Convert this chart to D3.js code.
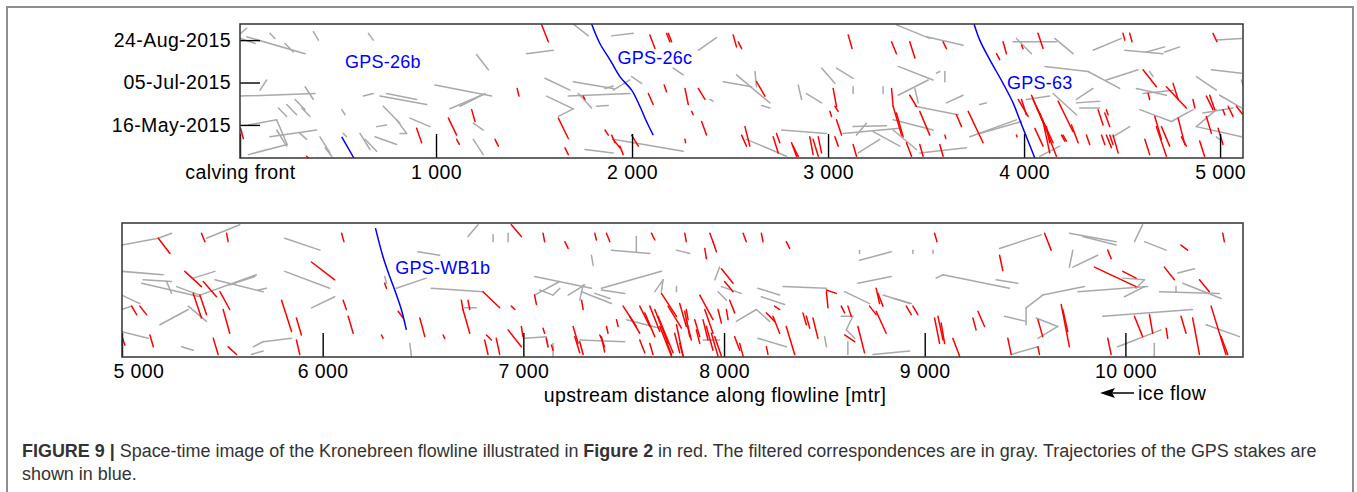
<!DOCTYPE html>
<html>
<head>
<meta charset="utf-8">
<script src="https://cdn.jsdelivr.net/npm/d3@7"></script>
<style>
  body { margin: 0; background: #fff; }
  svg text { font-family: "Liberation Sans", Arial, Helvetica, sans-serif; }
</style>
</head>
<body>
<svg id="fig" width="1357" height="492"></svg>
<script>
// Space-time image, Kronebreen flowline
// segments are [distance0, dayOfYear0, distance1, dayOfYear1]  (2015)

var doyDomain = [97, 255];
var dateTicks = [136, 186, 236];
var dateLabels = ["16-May-2015", "05-Jul-2015", "24-Aug-2015"];

var topTicks = [0, 1000, 2000, 3000, 4000, 5000];
var topTickLabels = ["calving front", "1 000", "2 000", "3 000", "4 000", "5 000"];
var bottomTicks = [5000, 6000, 7000, 8000, 9000, 10000];
var bottomTickLabels = ["5 000", "6 000", "7 000", "8 000", "9 000", "10 000"];

var redTop = [
  [3,132,17,120],[901,132,927,115],[1063,144,1105,124],[1105,119,1119,113],[340,99,349,97],
  [1539,254,1573,234],[2091,242,2117,226],[2176,244,2193,234],[2185,244,2202,234],
  [2516,242,2533,228],[2542,234,2559,226],[3103,242,3123,226],[3324,234,3349,220],
  [1414,179,1423,170],[2164,183,2176,175],[2083,173,2108,160],[2270,179,2287,160],
  [2338,179,2372,166],[2304,152,2312,148],[2355,140,2380,124],[2635,187,2678,170],
  [3026,179,3043,158],[3035,158,3052,152],[3009,152,3018,146],[3043,142,3069,124],
  [3324,179,3332,158],[1182,154,1199,140],[1301,119,1318,111],[1624,144,1675,120],
  [1658,109,1675,101],[1751,170,1760,166],[1862,130,1879,124],[1896,124,1913,115],
  [1904,119,1938,109],[1938,111,1955,101],[1998,124,2032,111],[2270,119,2273,115],
  [2559,124,2584,111],[2576,134,2601,111],[2720,122,2746,103],[2737,126,2754,115],
  [2814,115,2839,99],[2822,111,2848,99],[2907,122,2924,101],[2924,119,2950,99],
  [2950,122,2967,103],[3035,122,3052,111],[3128,113,3145,99],
  [3417,234,3443,215],[3587,234,3604,226],[3859,220,3876,213],[3893,234,3910,220],
  [4071,244,4097,226],[3987,230,3995,226],[4505,244,4514,236],[4539,244,4551,234],
  [4964,244,4984,234],[3332,158,3375,124],[3349,150,3383,122],[3417,171,3451,158],
  [3468,152,3519,124],[3655,148,3681,134],[3715,152,3791,115],[3596,124,3601,120],
  [3961,124,3964,122],[3400,115,3426,99],[3468,113,3485,99],[3570,113,3587,99],
  [3970,166,4021,146],[3987,166,4012,148],[4038,171,4114,130],[4046,166,4123,126],
  [4063,158,4148,115],[4080,150,4165,99],[4097,140,4131,103],[4114,134,4131,115],
  [4055,132,4097,111],[4174,164,4250,128],[4191,124,4208,117],[4199,124,4216,117],
  [4242,136,4276,115],[4318,124,4335,113],[4378,154,4403,136],[4412,150,4437,134],
  [4420,154,4429,148],[4395,124,4412,113],[4420,124,4446,109],[4437,124,4454,113],
  [4454,124,4480,103],[4607,201,4675,181],[4633,173,4641,166],[4726,181,4828,156],
  [4760,185,4786,166],[4862,166,4871,156],[4667,146,4701,119],[4675,134,4726,99],
  [4701,134,4743,111],[4616,119,4641,101],[4786,144,4820,113],[4803,122,4828,111],
  [4896,117,4921,99],[4930,170,4964,154],[4947,171,4973,154],[4930,146,4956,126],
  [4990,132,5015,113],[5041,158,5066,146],[5083,158,5117,148],[5015,154,5024,148]
];

var grayTop = [
  [3,244,34,250],[3,238,77,232],[34,240,332,220],[153,244,178,238],[230,232,272,222],
  [374,246,400,236],[655,244,680,236],[102,177,136,189],[3,170,383,173],[332,181,374,166],
  [196,156,238,146],[238,160,289,148],[281,166,332,154],[315,156,357,146],[43,136,187,142],
  [187,142,241,113],[241,113,43,101],[187,130,238,111],[153,122,391,130],[306,126,340,119],
  [408,122,459,103],[434,109,468,99],[519,154,536,148],[527,126,544,122],[612,126,663,107],
  [638,119,697,105],[629,170,680,173],[714,170,952,160],[748,173,901,166],[731,158,816,138],
  [799,142,850,126],[850,126,816,126],[867,144,969,134],[697,134,748,136],[689,122,799,113],
  [1700,255,1777,241],[1896,241,2006,244],[1462,220,1598,224],[1207,219,1267,201],
  [995,183,1284,170],[1071,155,1241,172],[1122,158,1250,173],[1190,138,1241,130],
  [1190,119,1241,101],[1556,191,1683,177],[1700,187,1904,179],[1675,170,1989,173],
  [1564,170,1700,155],[1700,155,1624,146],[1726,173,1794,156],[1819,158,1879,159],
  [1862,179,1904,182],[1904,177,1989,189],[1998,193,2049,185],[2210,203,2261,195],
  [2338,224,2431,239],[1760,107,1904,103],[1904,119,2261,105],[2465,187,2610,181],
  [2533,195,2703,162],[2627,199,2635,181],[2848,183,2865,166],[2890,173,2967,162],
  [2967,203,3035,185],[3043,203,3128,191],[3128,181,3128,173],[3281,181,3281,173],
  [2661,159,2703,156],[2397,166,2414,164],[2763,130,2992,126],[2584,119,2788,99],
  [3128,134,3298,135],[3077,126,3366,132],[3145,124,3196,138],[3154,103,3264,119],
  [3230,128,3366,111],
  [3349,254,3519,238],[3502,240,3689,230],[3358,205,3536,189],[3553,197,3570,199],
  [3596,199,3596,187],[3358,171,3511,189],[3443,179,3460,162],[3443,158,3664,148],
  [3604,162,3689,171],[3774,160,3808,162],[3332,130,3451,107],[3468,103,3706,109],
  [3332,142,3536,130],[3774,126,3987,140],[3723,122,3961,142],[3944,234,4165,234],
  [3961,238,4038,220],[4157,238,4250,220],[4352,224,4497,238],[4514,224,4709,220],
  [4624,222,4718,228],[4718,222,4794,228],[4106,205,4327,199],[4327,199,4488,179],
  [4420,189,4582,201],[4573,179,4726,171],[4607,173,4760,177],[4641,199,4658,193],
  [4267,166,4352,179],[4267,162,4386,164],[4284,156,4386,156],[4148,173,4267,148],
  [4012,166,4131,170],[4590,154,4752,140],[4752,140,4862,154],[4454,122,4539,134],
  [4879,193,4981,177],[4956,201,5109,197],[5109,189,5117,183],[4998,171,5109,156],
  [4879,134,4981,154],[4879,134,5109,122],[4913,150,5066,156],[4981,236,5109,238],
  [4080,99,4182,111],[4981,122,4998,119]
];

var redBottom = [
  [5181,237,5239,219],[5396,243,5413,233],[5521,243,5529,233],[6094,243,6106,233],
  [5313,198,5396,180],[5405,186,5471,168],[5488,174,5537,153],[5355,172,5396,143],
  [5388,170,5421,147],[5504,153,5537,125],[5048,157,5073,147],[5089,157,5122,147],
  [5944,209,6060,188],[5795,164,5845,127],[5869,143,5894,123],[5869,117,5886,100],
  [6102,164,6118,153],[6127,145,6152,125],[4998,123,5014,111],[5139,123,5156,109],
  [5455,119,5479,100],[5529,109,5571,100],[6293,123,6301,119],[6309,184,6318,178],
  [6376,151,6401,143],[6484,143,6509,121],[6600,123,6608,119],[6691,164,6699,153],
  [6724,164,6733,153],[6699,153,6733,125],[6799,174,6882,155],[6940,157,6957,153],
  [6940,253,6990,239],[7098,243,7106,233],[7056,170,7065,159],[6816,123,6841,117],
  [6807,117,6824,100],[6865,119,6882,100],[6924,129,6990,109],[6990,133,6998,121],
  [7098,131,7106,125],[7114,119,7123,109],
  [7207,233,7223,225],[7356,243,7364,235],[7414,243,7431,233],[7638,243,7655,235],
  [7804,243,7812,233],[7929,243,7945,233],[8095,243,8111,233],[8186,243,8194,233],
  [8310,233,8327,225],[9049,243,9061,233],[7904,225,7912,213],[7945,233,7962,221],
  [7987,201,8045,184],[8003,186,8045,174],[8028,164,8053,149],[7879,170,7945,141],
  [7904,153,7945,125],[7688,172,7763,145],[7721,157,7788,131],[7779,160,7812,133],
  [7804,151,7829,121],[7812,141,7837,117],[7497,157,7563,133],[7530,145,7580,125],
  [7580,157,7630,133],[7605,149,7655,121],[7630,157,7680,127],[7655,153,7721,113],
  [7671,145,7746,102],[7680,133,7738,98],[7754,125,7779,102],[7763,135,7796,98],
  [7854,141,7879,121],[7862,129,7879,113],[7895,141,7920,117],[7912,133,7945,105],
  [7937,125,7970,98],[7954,121,7987,98],[7970,153,7987,137],[7812,153,7821,141],
  [7580,117,7605,102],[7630,113,7646,100],[7713,115,7738,100],[7779,113,7796,98],
  [8053,121,8078,105],[8078,113,8095,98],[8012,153,8020,141],[7290,164,7298,153],
  [7248,133,7273,113],[7256,121,7281,102],[7281,115,7298,100],[7381,123,7405,109],
  [7389,121,7405,103],[7414,133,7422,125],[7464,141,7472,133],[7140,111,7148,105],
  [8211,149,8252,139],[8244,145,8277,125],[8252,157,8277,153],[8211,109,8219,100],
  [8310,133,8352,100],[8393,149,8410,135],[8410,145,8427,131],[8443,143,8468,119],
  [8510,176,8559,172],[8510,174,8518,155],[8584,157,8601,149],[8617,157,8634,145],
  [8601,123,8651,115],[8667,133,8700,102],[8758,178,8775,160],[8767,172,8792,157],
  [8725,157,8758,147],[8758,151,8808,125],[8908,157,8933,147],[8941,157,8966,147],
  [9049,143,9074,113],[9066,145,9091,117],[9082,137,9099,113],[9140,119,9174,98],
  [9240,143,9256,129],[9265,151,9298,133],
  [9597,243,9630,223],[9373,217,9389,199],[9912,223,9929,213],[9846,203,10053,180],
  [9987,198,10053,190],[10194,203,10244,188],[10277,229,10310,223],[10485,243,10493,233],
  [10369,188,10418,174],[9680,159,9721,109],[9688,153,9713,127],[9564,141,9588,121],
  [9414,119,9431,100],[9564,109,9572,100],[9912,119,9929,100],[10045,145,10086,121],
  [10120,147,10136,125],[10203,131,10211,119],[10277,145,10302,125],[10335,143,10369,100],
  [10427,157,10501,100],[10477,121,10510,100]
];

var grayBottom = [
  [4998,229,5181,237],[5181,237,5247,243],[5421,237,5587,253],[5811,237,5986,223],
  [4998,198,5205,194],[5106,188,5247,186],[5098,184,5388,168],[5222,186,5247,172],
  [5272,180,5388,170],[5355,190,5463,198],[5388,170,5670,194],[5463,188,5703,174],
  [5537,182,5662,192],[5679,176,5720,178],[5811,198,6035,178],[5944,155,6060,168],
  [4998,170,5089,160],[4998,153,5048,157],[5189,135,5330,153],[5330,157,5421,139],
  [4998,127,5130,119],[5297,109,5355,105],[5654,109,5703,115],[5703,115,5845,119],
  [5645,100,5703,104],[6475,221,6583,217],[6724,239,6774,253],[6849,241,6849,233],
  [6924,243,6924,233],[6367,178,6516,190],[6309,192,6318,184],[6541,178,6799,174],
  [7056,170,7181,186],[6707,155,6766,155],[7007,119,7114,121],[7114,121,7123,109],
  [6434,113,6442,98],
  [7439,223,7630,219],[7563,239,7563,221],[7763,223,7829,219],[7339,217,7348,205],
  [7056,192,7339,178],[7389,178,7688,198],[7389,176,7505,172],[7082,176,7148,170],
  [7148,170,7182,178],[7223,170,7306,182],[7298,182,7281,164],[7290,174,7439,160],
  [7356,172,7431,166],[7655,174,7696,188],[7696,188,7688,174],[7763,180,7763,174],
  [7978,203,7954,188],[7987,180,8086,172],[7970,174,8012,164],[8061,139,8161,153],
  [8161,153,8227,139],[8169,178,8277,170],[8186,168,8302,159],[8294,180,8510,178],
  [8601,174,8725,160],[8667,184,8833,192],[8675,211,8833,221],[8675,223,8675,219],
  [8941,223,8941,219],[9041,223,9041,219],[9057,190,9091,194],[9091,194,9422,178],
  [8792,170,8925,160],[8850,166,8933,160],[8584,145,8642,145],[8642,145,8609,129],
  [8609,129,8651,119],[8617,115,8617,100],[8742,100,8925,104],[8169,119,8310,109],
  [8501,121,8510,109],[7514,141,7680,131],[7281,117,7505,115],[7148,113,7148,98],
  [7895,117,7978,117],
  [9373,225,9580,241],[9721,243,9954,233],[9788,239,9954,229],[10045,233,10086,253],
  [10095,233,10203,223],[9721,203,9738,223],[9738,203,9862,217],[9356,188,9464,184],
  [9505,155,9588,170],[9588,170,9796,180],[9505,155,9505,135],[9763,174,10111,180],
  [9987,190,10095,188],[10095,188,10053,178],[9995,168,10095,180],[10261,196,10344,201],
  [10170,174,10468,172],[10252,180,10252,174],[10286,184,10477,166],[9887,145,10335,153],
  [9398,145,9505,139],[9555,143,9663,133],[9663,133,9564,119],[9431,100,9564,109],
  [9962,109,10178,129],[10144,113,10144,98],[10402,135,10568,121]
];

// GPS stake trajectories [distance, dayOfYear]
var gps26b = [[519,122],[581,97]];
var gps26c = [[1794,255],[1836,232],[1887,213],[1938,193],[1998,177],[2040,158],[2074,140],[2108,124]];
var gps63 = [[3745,255],[3774,236],[3825,213],[3893,185],[3944,162],[3978,142],[4012,122],[4055,97]];
var gpsWB1b = [[6263,249],[6301,215],[6334,192],[6359,176],[6392,153],[6417,129]];

var gpsTopNames = ["GPS-26b", "GPS-26c", "GPS-63"];
var gpsTopLabelAt = [[729,210],[2117,215],[4080,186]];
var gpsBottomNames = ["GPS-WB1b"];
var gpsBottomLabelAt = [[6599,202]];

var svg = d3.select("#fig");

// outer frame of the figure
svg.append("rect")
  .attr("x", 7).attr("y", 7)
  .attr("width", 1346).attr("height", 500)
  .attr("fill", "none")
  .attr("stroke", "#8e8e8e")
  .attr("stroke-width", 2);

function styleLabels(sel) {
  sel.attr("font-size", 19.5)
    .attr("letter-spacing", 0.4)
    .attr("font-family", "Liberation Sans, Arial, sans-serif")
    .attr("fill", "#000");
}

function drawPanel(p) {
  var x = d3.scaleLinear().domain(p.xDomain).range([p.left, p.right]);
  var y = d3.scaleLinear().domain(doyDomain).range([p.bottom, p.top]);

  svg.append("clipPath").attr("id", p.id)
    .append("rect")
    .attr("x", p.left).attr("y", p.top)
    .attr("width", p.right - p.left).attr("height", p.bottom - p.top);

  var g = svg.append("g").attr("clip-path", "url(#" + p.id + ")");

  function segs(data, color) {
    g.append("g").selectAll("line")
      .data(data)
      .enter().append("line")
      .attr("x1", function(d) { return x(d[0]); })
      .attr("y1", function(d) { return y(d[1]); })
      .attr("x2", function(d) { return x(d[2]); })
      .attr("y2", function(d) { return y(d[3]); })
      .attr("stroke", color)
      .attr("stroke-width", 1.5)
      .attr("stroke-linecap", "round");
  }
  segs(p.gray, "#a9a9a9");
  segs(p.red, "#ff0000");

  var line = d3.line()
    .x(function(d) { return x(d[0]); })
    .y(function(d) { return y(d[1]); })
    .curve(d3.curveCatmullRom);

  p.gps.forEach(function(track) {
    g.append("path")
      .attr("d", line(track))
      .attr("fill", "none")
      .attr("stroke", "#0000ff")
      .attr("stroke-width", 1.5);
  });

  p.gpsNames.forEach(function(name, i) {
    svg.append("text")
      .attr("x", x(p.gpsAt[i][0]))
      .attr("y", y(p.gpsAt[i][1]))
      .attr("text-anchor", "middle")
      .attr("dominant-baseline", "central")
      .attr("font-size", 18)
      .attr("letter-spacing", 0.25)
      .attr("fill", "#0000ff")
      .text(name);
  });

  // x axis, ticks pointing into the plot
  var xAxis = d3.axisBottom(x)
    .tickValues(p.ticks)
    .tickFormat(function(d, i) { return p.tickLabels[i]; })
    .tickSize(-24)
    .tickPadding(7);
  var gx = svg.append("g")
    .attr("transform", "translate(0," + p.bottom + ")")
    .call(xAxis);
  gx.select(".domain").remove();
  gx.selectAll("line").attr("stroke", "#000").attr("stroke-width", 1.4);
  styleLabels(gx.selectAll("text"));
  if (p.firstLabelStart) {
    gx.selectAll("text").filter(function(d, i) { return i === 0; })
      .attr("text-anchor", "start")
      .attr("x", -9);
  }

  if (p.dates) {
    var yAxis = d3.axisLeft(y)
      .tickValues(dateTicks)
      .tickFormat(function(d, i) { return dateLabels[i]; })
      .tickSize(-20)
      .tickPadding(9);
    var gy = svg.append("g")
      .attr("transform", "translate(" + p.left + ",0)")
      .call(yAxis);
    gy.select(".domain").remove();
    gy.selectAll("line").attr("stroke", "#000").attr("stroke-width", 1.4);
    styleLabels(gy.selectAll("text"));
  }

  svg.append("rect")
    .attr("x", p.left).attr("y", p.top)
    .attr("width", p.right - p.left).attr("height", p.bottom - p.top)
    .attr("fill", "none")
    .attr("stroke", "#333")
    .attr("stroke-width", 1.5);
}

drawPanel({
  id: "clipTop", xDomain: [0, 5117],
  left: 240, right: 1243, top: 24, bottom: 158,
  red: redTop, gray: grayTop, gps: [gps26b, gps26c, gps63],
  gpsNames: gpsTopNames, gpsAt: gpsTopLabelAt,
  ticks: topTicks, tickLabels: topTickLabels, dates: true
});

drawPanel({
  id: "clipBottom", xDomain: [5000, 10586],
  left: 122, right: 1243, top: 223, bottom: 357,
  red: redBottom, gray: grayBottom, gps: [gpsWB1b],
  gpsNames: gpsBottomNames, gpsAt: gpsBottomLabelAt,
  ticks: bottomTicks, tickLabels: bottomTickLabels, dates: false,
  firstLabelStart: true
});

// axis title
styleLabels(svg.append("text")
  .attr("x", 715).attr("y", 395)
  .attr("text-anchor", "middle")
  .attr("dominant-baseline", "central")
  .text("upstream distance along flowline [mtr]"));

// ice flow arrow
svg.append("line")
  .attr("x1", 1110).attr("y1", 393).attr("x2", 1134).attr("y2", 393)
  .attr("stroke", "#000").attr("stroke-width", 1.5);
svg.append("path")
  .attr("d", "M1100,393 L1115,388 L1112,393 L1115,398 Z")
  .attr("fill", "#000");
styleLabels(svg.append("text")
  .attr("x", 1138).attr("y", 393)
  .attr("dominant-baseline", "central")
  .text("ice flow"));

// caption
var cap1 = svg.append("text")
  .attr("x", 22).attr("y", 457)
  .attr("font-size", 17)
  .attr("fill", "#333");
cap1.append("tspan").attr("font-weight", "bold").text("FIGURE 9 | ");
cap1.append("tspan").text("Space-time image of the Kronebreen flowline illustrated in ");
cap1.append("tspan").attr("font-weight", "bold").text("Figure 2");
cap1.append("tspan").text(" in red. The filtered correspondences are in gray. Trajectories of the GPS stakes are");

var w = cap1.node().getComputedTextLength();
var capSize = 17 * 1296 / w;
cap1.attr("font-size", capSize);

svg.append("text")
  .attr("x", 22).attr("y", 480)
  .attr("font-size", capSize)
  .attr("fill", "#333")
  .text("shown in blue.");
</script>
</body>
</html>
